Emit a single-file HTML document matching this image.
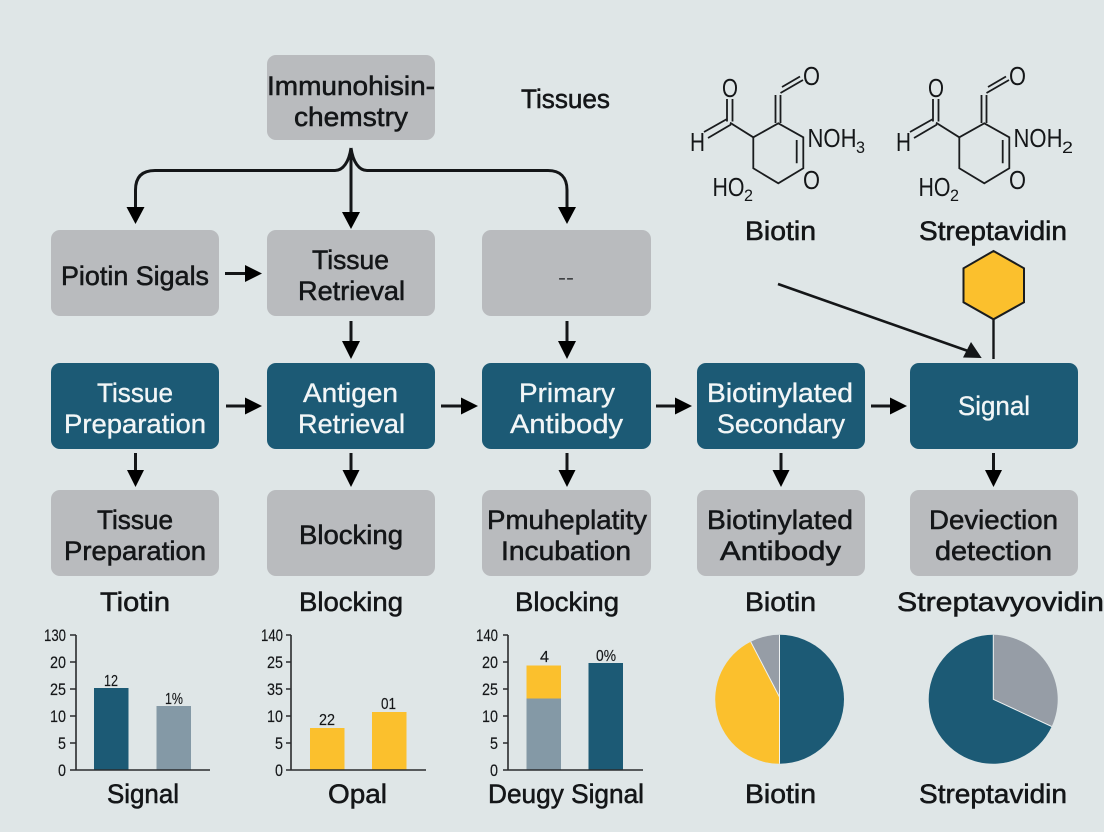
<!DOCTYPE html>
<html><head><meta charset="utf-8"><style>
html,body{margin:0;padding:0;background:#dfe6e7}
svg{display:block}
text{font-family:"Liberation Sans",sans-serif;fill:#141618}
.t{font-size:27px;stroke:#141618;stroke-width:.55px}
.w{font-size:27px;fill:#f2f6f7;stroke:#f2f6f7;stroke-width:.35px}
.s{font-size:17px;stroke:#141618;stroke-width:.15px}
.v{font-size:16px;stroke:#141618;stroke-width:.15px}
.d{font-size:16px}
.o{font-size:26px}
.sub{font-size:17px}
.g{fill:#b9bbbe}.b{fill:#1c5a75}
.ln{stroke:#141618;stroke-width:3;fill:none}
.m{stroke:#1a1c1e;stroke-width:1.8;fill:none}
.ax{stroke:#2a2c2e;stroke-width:1.6;fill:none}
</style></head><body>
<svg width="1104" height="832" viewBox="0 0 1104 832" xmlns="http://www.w3.org/2000/svg">
<defs>
<g id="mol">
<path class="m" d="M753.3 137.3L778.3 123.3L803.3 137.3V168.3L778.3 183.3L753.3 168.3Z"/>
<path class="m" d="M796.7 140V163.3M753.3 137.3L730 122.7M727 121.5V99M732.5 121.5V99M727 119L704 132M731 124.5L708 138M775.5 123V95M780.5 123V95M780.5 93L803 80M782 87L800 76.5"/>
</g>
</defs>
<rect width="1104" height="832" fill="#dfe6e7"/>

<!-- boxes -->
<rect class="g" x="267" y="55" width="168" height="85" rx="9"/>
<rect class="g" x="51" y="230" width="168" height="86" rx="9"/>
<rect class="g" x="267" y="230" width="168" height="86" rx="9"/>
<rect class="g" x="482" y="230" width="169" height="86" rx="9"/>
<rect class="b" x="51" y="363" width="168" height="86" rx="9"/>
<rect class="b" x="267" y="363" width="168" height="86" rx="9"/>
<rect class="b" x="482" y="363" width="169" height="86" rx="9"/>
<rect class="b" x="697" y="363" width="168" height="86" rx="9"/>
<rect class="b" x="910" y="363" width="168" height="86" rx="9"/>
<rect class="g" x="51" y="490" width="168" height="86" rx="9"/>
<rect class="g" x="267" y="490" width="168" height="86" rx="9"/>
<rect class="g" x="482" y="490" width="169" height="86" rx="9"/>
<rect class="g" x="697" y="490" width="168" height="86" rx="9"/>
<rect class="g" x="910" y="490" width="168" height="86" rx="9"/>

<!-- top connectors -->
<path class="ln" d="M351 148V214"/>
<path class="ln" d="M351 148C349 162 343 170.5 335 170.5H155C142 170.5 135.5 177 135.5 190V208"/>
<path class="ln" d="M351 148C353 162 359 170.5 367 170.5H548C560 170.5 567 177 567 190V208"/>
<path d="M126.500 207H144.500L135.500 224Z M342 212H360L351 229Z M558 207H576L567 224Z"/>
<!-- row arrows -->
<path class="ln" d="M225 273.500H248M351 321V342M567 321V342M226 406H248M441 406H464M656 406H678M871 406H893"/>
<path d="M245 265L262 273.500L245 282Z M342 341H360L351 359Z M558 341H576L567 359Z
M245 397.500L262 406L245 414.500Z M461 397.500L478 406L461 414.500Z M675 397.500L692 406L675 414.500Z M890 397.500L907 406L890 414.500Z"/>
<path class="ln" d="M135.500 453V472M351 453V472M567 453V472M781 453V472M993.500 453V472"/>
<path d="M127 470H144L135.500 487Z M342.500 470H359.500L351 487Z M558.500 470H575.500L567 487Z M772.500 470H789.500L781 487Z M985 470H1002L993.500 487Z"/>

<!-- long arrow + hexagon -->
<path d="M778 284L968 351" stroke="#141618" stroke-width="2.600" fill="none"/>
<path d="M981.700 358L963 357.500L971 342Z" fill="#141618"/>
<path d="M993.500 319V359" stroke="#141618" stroke-width="2.400"/>
<path d="M993.500 251L1024 268.300V302.300L993.500 319.300L963.500 302.300V268.300Z" fill="#fbc02d" stroke="#1a1c1e" stroke-width="2"/>

<!-- molecules -->
<use href="#mol"/>
<use href="#mol" x="206"/>
<text class="o" x="722" y="97" textLength="16" lengthAdjust="spacingAndGlyphs">O</text>
<text class="o" x="803" y="85" textLength="17" lengthAdjust="spacingAndGlyphs">O</text>
<text class="o" x="690" y="151" textLength="15" lengthAdjust="spacingAndGlyphs">H</text>
<text class="o" x="807.500" y="147" textLength="49" lengthAdjust="spacingAndGlyphs">NOH</text>
<text class="sub" x="856" y="153" textLength="9" lengthAdjust="spacingAndGlyphs">3</text>
<text class="o" x="803" y="189" textLength="17" lengthAdjust="spacingAndGlyphs">O</text>
<text class="o" x="712.500" y="196" textLength="32" lengthAdjust="spacingAndGlyphs">HO</text>
<text class="sub" x="744" y="201" textLength="9" lengthAdjust="spacingAndGlyphs">2</text>

<text class="o" x="928" y="97" textLength="16" lengthAdjust="spacingAndGlyphs">O</text>
<text class="o" x="1009" y="85" textLength="17" lengthAdjust="spacingAndGlyphs">O</text>
<text class="o" x="896" y="151" textLength="15" lengthAdjust="spacingAndGlyphs">H</text>
<text class="o" x="1013.500" y="147" textLength="49" lengthAdjust="spacingAndGlyphs">NOH</text>
<text class="sub" x="1062" y="153" textLength="11" lengthAdjust="spacingAndGlyphs">2</text>
<text class="o" x="1009" y="189" textLength="17" lengthAdjust="spacingAndGlyphs">O</text>
<text class="o" x="918.500" y="196" textLength="32" lengthAdjust="spacingAndGlyphs">HO</text>
<text class="sub" x="950" y="201" textLength="9" lengthAdjust="spacingAndGlyphs">2</text>

<!-- labels -->
<text class="t" x="267" y="95" textLength="168" lengthAdjust="spacingAndGlyphs">Immunohisin-</text>
<text class="t" x="294" y="126" textLength="114" lengthAdjust="spacingAndGlyphs">chemstry</text>
<text class="t" x="521" y="108" textLength="89" lengthAdjust="spacingAndGlyphs">Tissues</text>
<text class="t" x="745" y="240" textLength="71" lengthAdjust="spacingAndGlyphs">Biotin</text>
<text class="t" x="919" y="240" textLength="148" lengthAdjust="spacingAndGlyphs">Streptavidin</text>
<text class="t" x="61" y="285" textLength="148" lengthAdjust="spacingAndGlyphs">Piotin Sigals</text>
<text class="t" x="312" y="269" textLength="77" lengthAdjust="spacingAndGlyphs">Tissue</text>
<text class="t" x="298" y="300" textLength="107" lengthAdjust="spacingAndGlyphs">Retrieval</text>
<text class="d" x="558" y="283" textLength="16" lengthAdjust="spacingAndGlyphs">--</text>

<text class="w" x="97" y="402" textLength="76" lengthAdjust="spacingAndGlyphs">Tissue</text>
<text class="w" x="64" y="433" textLength="142" lengthAdjust="spacingAndGlyphs">Preparation</text>
<text class="w" x="303" y="402" textLength="95" lengthAdjust="spacingAndGlyphs">Antigen</text>
<text class="w" x="298" y="433" textLength="107" lengthAdjust="spacingAndGlyphs">Retrieval</text>
<text class="w" x="519" y="402" textLength="96" lengthAdjust="spacingAndGlyphs">Primary</text>
<text class="w" x="510" y="433" textLength="113" lengthAdjust="spacingAndGlyphs">Antibody</text>
<text class="w" x="707" y="402" textLength="146" lengthAdjust="spacingAndGlyphs">Biotinylated</text>
<text class="w" x="717" y="433" textLength="128" lengthAdjust="spacingAndGlyphs">Secondary</text>
<text class="w" x="958" y="415" textLength="72" lengthAdjust="spacingAndGlyphs">Signal</text>

<text class="t" x="97" y="529" textLength="76" lengthAdjust="spacingAndGlyphs">Tissue</text>
<text class="t" x="64" y="560" textLength="142" lengthAdjust="spacingAndGlyphs">Preparation</text>
<text class="t" x="299" y="544" textLength="104" lengthAdjust="spacingAndGlyphs">Blocking</text>
<text class="t" x="487" y="529" textLength="160" lengthAdjust="spacingAndGlyphs">Pmuheplatity</text>
<text class="t" x="501" y="560" textLength="130" lengthAdjust="spacingAndGlyphs">Incubation</text>
<text class="t" x="707" y="529" textLength="146" lengthAdjust="spacingAndGlyphs">Biotinylated</text>
<text class="t" x="720" y="560" textLength="121" lengthAdjust="spacingAndGlyphs">Antibody</text>
<text class="t" x="929" y="529" textLength="129" lengthAdjust="spacingAndGlyphs">Deviection</text>
<text class="t" x="935" y="560" textLength="117" lengthAdjust="spacingAndGlyphs">detection</text>

<text class="t" x="100" y="611" textLength="70" lengthAdjust="spacingAndGlyphs">Tiotin</text>
<text class="t" x="299" y="611" textLength="104" lengthAdjust="spacingAndGlyphs">Blocking</text>
<text class="t" x="515" y="611" textLength="104" lengthAdjust="spacingAndGlyphs">Blocking</text>
<text class="t" x="745" y="611" textLength="71" lengthAdjust="spacingAndGlyphs">Biotin</text>
<text class="t" x="897" y="611" textLength="207" lengthAdjust="spacingAndGlyphs">Streptavyovidin</text>

<text class="t" x="107" y="803" textLength="72" lengthAdjust="spacingAndGlyphs">Signal</text>
<text class="t" x="328" y="803" textLength="59" lengthAdjust="spacingAndGlyphs">Opal</text>
<text class="t" x="488" y="803" textLength="156" lengthAdjust="spacingAndGlyphs">Deugy Signal</text>
<text class="t" x="745" y="803" textLength="71" lengthAdjust="spacingAndGlyphs">Biotin</text>
<text class="t" x="919" y="803" textLength="148" lengthAdjust="spacingAndGlyphs">Streptavidin</text>

<!-- chart 1 -->
<rect x="94" y="688" width="34.500" height="82" fill="#1c5a75"/>
<rect x="156.500" y="706" width="34.500" height="64" fill="#8499a6"/>
<path class="ax" d="M76 635V770M70 770H210M70 635H76M70 662H76M70 689H76M70 716H76M70 743H76"/>
<text class="s" x="44" y="641" textLength="22" lengthAdjust="spacingAndGlyphs">130</text>
<text class="s" x="50" y="668" textLength="16" lengthAdjust="spacingAndGlyphs">20</text>
<text class="s" x="50" y="695" textLength="16" lengthAdjust="spacingAndGlyphs">25</text>
<text class="s" x="50" y="722" textLength="16" lengthAdjust="spacingAndGlyphs">10</text>
<text class="s" x="58" y="749" textLength="8" lengthAdjust="spacingAndGlyphs">5</text>
<text class="s" x="58" y="776" textLength="8" lengthAdjust="spacingAndGlyphs">0</text>
<text class="v" x="104" y="686" textLength="14" lengthAdjust="spacingAndGlyphs">12</text>
<text class="v" x="165" y="704" textLength="18" lengthAdjust="spacingAndGlyphs">1%</text>

<!-- chart 2 -->
<rect x="310" y="728" width="34.500" height="42" fill="#fbc02d"/>
<rect x="372" y="712" width="34.500" height="58" fill="#fbc02d"/>
<path class="ax" d="M291 635V770M286 770H426M286 635H291M286 662H291M286 689H291M286 716H291M286 743H291"/>
<text class="s" x="261" y="641" textLength="22" lengthAdjust="spacingAndGlyphs">140</text>
<text class="s" x="267" y="668" textLength="16" lengthAdjust="spacingAndGlyphs">25</text>
<text class="s" x="267" y="695" textLength="16" lengthAdjust="spacingAndGlyphs">35</text>
<text class="s" x="267" y="722" textLength="16" lengthAdjust="spacingAndGlyphs">10</text>
<text class="s" x="275" y="749" textLength="8" lengthAdjust="spacingAndGlyphs">5</text>
<text class="s" x="275" y="776" textLength="8" lengthAdjust="spacingAndGlyphs">0</text>
<text class="v" x="319" y="725" textLength="16" lengthAdjust="spacingAndGlyphs">22</text>
<text class="v" x="381" y="709" textLength="15" lengthAdjust="spacingAndGlyphs">01</text>

<!-- chart 3 -->
<rect x="526.500" y="698" width="34.500" height="72" fill="#8499a6"/>
<rect x="526.500" y="665.500" width="34.500" height="33" fill="#fbc02d"/>
<rect x="588.500" y="663" width="34.500" height="107" fill="#1c5a75"/>
<path class="ax" d="M508 635V770M503 770H643M503 635H508M503 662H508M503 689H508M503 716H508M503 743H508"/>
<text class="s" x="476" y="641" textLength="22" lengthAdjust="spacingAndGlyphs">140</text>
<text class="s" x="482" y="668" textLength="16" lengthAdjust="spacingAndGlyphs">20</text>
<text class="s" x="482" y="695" textLength="16" lengthAdjust="spacingAndGlyphs">25</text>
<text class="s" x="482" y="722" textLength="16" lengthAdjust="spacingAndGlyphs">10</text>
<text class="s" x="490" y="749" textLength="8" lengthAdjust="spacingAndGlyphs">5</text>
<text class="s" x="490" y="776" textLength="8" lengthAdjust="spacingAndGlyphs">0</text>
<text class="v" x="540" y="662" textLength="9" lengthAdjust="spacingAndGlyphs">4</text>
<text class="v" x="596" y="661" textLength="20" lengthAdjust="spacingAndGlyphs">0%</text>

<!-- pies -->
<path d="M779.500 634.800A64.500 64.500 0 0 1 779.500 763.800Z" fill="#1c5a75"/>
<path d="M779.500 763.800A64.500 64.500 0 0 1 750.700 641.700L779.500 697Z" fill="#fbc02d"/>
<path d="M750.700 641.700A64.500 64.500 0 0 1 779.500 634.800V697Z" fill="#969da6"/>
<path d="M779.500 634.800V763.800M779.500 697L750.700 641.700" stroke="#eef2f2" stroke-width="1" fill="none"/>
<path d="M993.300 634.800A64.500 64.500 0 1 0 1051.700 726.500L993.300 699.300Z" fill="#1c5a75"/>
<path d="M993.300 634.800A64.500 64.500 0 0 1 1051.700 726.500L993.300 699.300Z" fill="#969da6"/>
<path d="M993.300 634.800V699.300L1051.700 726.500" stroke="#eef2f2" stroke-width="1" fill="none"/>
</svg>
</body></html>
